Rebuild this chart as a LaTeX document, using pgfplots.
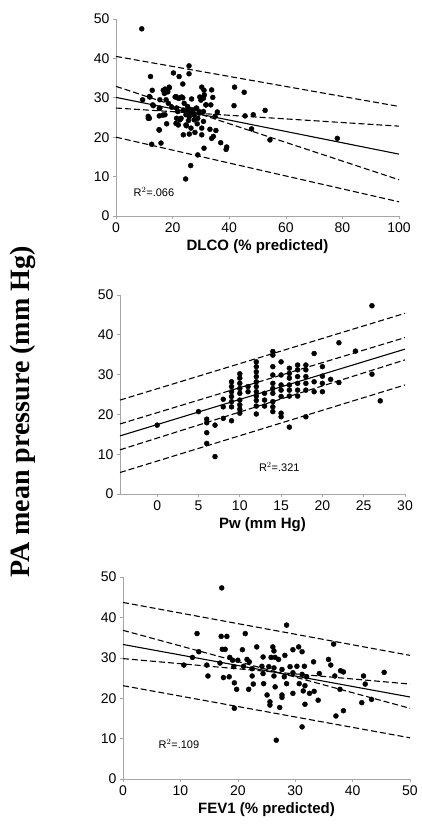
\documentclass[border=0pt]{standalone}
\usepackage{fontspec}
\setmainfont{Liberation Sans}
\newfontfamily\titleserif{Liberation Serif}
\usepackage{pgfplots}
\pgfplotsset{compat=1.18}

\pgfplotsset{
  panel/.style={
    scale only axis,
    anchor=south west,
    ymin=0, ymax=50,
    ytick={0,10,...,50},
    axis x line=bottom, axis y line=left,
    axis line style={-, gray!70, line width=0.6pt},
    tick style={gray!70, line width=0.6pt},
    tick align=outside,
    major tick length=3pt,
    /pgf/number format/assume math mode=true,
    tick label style={font=\fontsize{14}{14}\selectfont},
    label style={font=\fontsize{15}{15}\selectfont\bfseries},
    clip=false,
  },
  pts/.style={only marks, mark=*, mark size=2.5pt, black},
  fit/.style={black, line width=1.1pt},
  band/.style={black, line width=1.1pt, dash pattern=on 6pt off 3pt},
}
\tikzset{rsq/.style={font=\fontsize{11}{11}\selectfont, anchor=west}}

\begin{document}
\begin{tikzpicture}
\path[use as bounding box] (0,0) rectangle (422pt,832pt);

% DLCO
\begin{axis}[panel, at={(116pt,616pt)}, width=283pt, height=197pt,
  xmin=0, xmax=100, xtick={0,20,...,100},
  xlabel={DLCO (\% predicted)}]
\addplot[pts] coordinates {
(9.1,47.5) (25.8,38.1) (25.8,36.1) (20.3,36.3) (22.3,35.4) (12.2,35.4)
(23.6,33.5) (18.8,32.7) (16.7,31.9) (17.3,32.2) (12.8,31.9) (30.3,32.7)
(31.1,31.9) (33.8,32.0) (41.9,32.7) (45.3,31.4) (12.0,30.2) (9.4,29.5)
(20.9,30.2) (22.0,29.9) (23.2,30.2) (26.7,29.7) (29.6,30.2) (30.9,29.9)
(34.2,30.1) (17.7,29.5) (18.5,28.6) (13.2,28.0) (15.5,29.5) (31.8,28.2)
(33.5,28.2) (41.7,28.0) (19.7,27.6) (21.4,27.4) (23.8,26.9) (25.2,26.9)
(27.3,26.9) (28.5,27.4) (15.5,27.4) (11.4,25.3) (11.4,24.8) (15.3,25.4)
(17.3,25.7) (24.7,25.7) (26.4,26.1) (29.4,26.1) (35.8,26.4) (35.0,25.3)
(45.6,25.4) (48.5,25.7) (52.7,26.8) (21.4,24.8) (22.6,24.4) (25.6,24.2)
(27.6,24.4) (30.9,24.0) (17.9,23.4) (22.0,23.1) (24.9,22.9) (28.7,23.4)
(30.3,22.3) (33.2,22.0) (35.3,21.7) (15.2,21.9) (47.9,22.1) (23.8,20.6)
(25.9,20.8) (27.9,21.2) (30.3,20.6) (34.4,20.2) (33.8,19.7) (37.0,18.6)
(39.1,17.5) (38.9,16.9) (12.6,18.2) (15.9,18.5) (54.4,19.3) (78.2,19.7)
(31.1,17.2) (28.9,15.5) (26.4,12.8) (24.6,9.4)
(21.2,30.3) (22.4,29.9) (23.6,30.0) (18.3,31.5) (18.8,32.5) (17.1,31.1)
(24.1,28.6) (25.3,27.8) (26.5,27.0) (28.3,27.3) (29.4,26.5) (27.7,25.6)
(28.9,24.8) (25.9,25.2) (23.0,24.8) (21.8,26.5) (21.2,23.5) (24.7,23.1)
(26.5,22.3) (30.9,26.5) (31.8,28.2) (30.0,29.4) (31.2,30.7) (11.8,30.3)
(13.0,28.2) (15.3,27.3) (16.5,25.6) (15.3,21.8) (11.8,24.8)
};
\addplot[band] coordinates {(0,40.5) (100,27.8)};
\addplot[band] coordinates {(0,32.9) (100,9.2)};
\addplot[fit]  coordinates {(0,30.1) (100,15.7)};
\addplot[band] coordinates {(0,27.4) (100,22.8)};
\addplot[band] coordinates {(0,20.0) (100,3.6)};
\node[rsq] at (axis cs:5,6) {R$^2$=.066};
\end{axis}

% Pw
\begin{axis}[panel, at={(120pt,338pt)}, width=285pt, height=199pt,
  xmin=-4.5, xmax=30, xtick={0,5,...,30},
  xlabel={Pw (mm Hg)}]
\addplot[pts] coordinates {
(0,17.3) (5,20.7) (6,18.8) (6,17.9) (6,15.4) (6,12.7) (7,17.3) (7,9.4)
(8,23.8) (8,21.9) (8,19.0)
(9,28.2) (9,27.0) (9,25.7) (9,24.5) (9,23.2) (9,21.9) (9,18.4)
(10,30.2) (10,29.1) (10,27.8) (10,26.5) (10,25.3) (10,23.6) (10,22.4) (10,21.3) (10,20.3)
(11,27.0) (11,25.7)
(12,33.2) (12,32.0) (12,30.7) (12,29.5) (12,28.2) (12,27.0) (12,25.7) (12,24.6) (12,23.5) (12,22.1) (12,20.1)
(13,25.3) (13,23.6) (13,22.1)
(14,35.8) (14,34.9) (14,32.0) (14,29.9) (14,27.8) (14,26.5) (14,25.3) (14,23.2) (14,21.9) (14,20.7)
(15,33.2) (15,29.9) (15,27.4) (15,26.1) (15,24.5) (15,20.3) (15,19.4)
(16,31.6) (16,30.3) (16,29.1) (16,27.4) (16,26.1) (16,24.6) (16,16.8)
(17,32.4) (17,31.2) (17,29.5) (17,27.8) (17,26.1) (17,24.6)
(18,32.4) (18,31.2) (18,29.5) (18,27.8) (18,26.1) (18,19.4)
(19,35.3) (19,28.2) (19,25.7)
(20,32.0) (20,29.6) (20,27.8) (20,25.7)
(21,28.8) (22,38.0) (22,28.0) (24,35.9) (26,47.3) (26,30.1) (27,23.4)
};
\addplot[band] coordinates {(-4.5,23.6) (30,45.4)};
\addplot[band] coordinates {(-4.5,17.6) (30,39.3)};
\addplot[fit]  coordinates {(-4.5,14.6) (30,36.4)};
\addplot[band] coordinates {(-4.5,11.1) (30,33.7)};
\addplot[band] coordinates {(-4.5,5.4) (30,27.4)};
\node[rsq] at (axis cs:11.9,6.8) {R$^2$=.321};
\end{axis}

% FEV1
\begin{axis}[panel, at={(123pt,53pt)}, width=287pt, height=202pt,
  xmin=0, xmax=50, xtick={0,10,...,50},
  xlabel={FEV1 (\% predicted)}]
\addplot[pts] coordinates {
(17.2,47.3) (28.5,38.1) (12.9,36.0) (17.1,35.3) (18.1,35.3) (21.3,36.0)
(13.2,31.5) (23.3,32.7) (26.3,31.7) (26.1,32.7) (29.6,32.0) (30.6,32.7)
(31.2,31.5) (36.7,33.4) (17.3,32.1) (17.8,32.1) (20.8,32.0) (12.1,30.1)
(18.6,30.1) (19.1,29.4) (20.0,29.4) (21.6,29.6) (22.0,29.0) (24.4,30.2)
(25.8,30.1) (26.5,30.1) (27.1,29.6) (28.2,30.6) (10.6,28.2) (14.6,28.2)
(16.9,28.7) (19.3,27.8) (21.0,27.9) (22.5,27.3) (24.2,27.9) (25.4,27.8)
(26.3,27.5) (27.7,27.1) (29.1,27.8) (30.3,27.9) (31.6,27.9) (33.2,29.0)
(35.8,29.6) (36.2,28.2) (14.8,25.5) (17.5,25.1) (18.5,25.3) (22.5,25.5)
(24.4,26.1) (26.3,25.5) (28.1,25.3) (29.6,26.3) (31.2,25.9) (32.0,25.3)
(34.2,26.1) (36.9,25.5) (37.9,26.8) (38.4,26.5) (41.9,25.5) (45.5,26.4)
(19.4,23.8) (22.7,23.5) (24.5,23.6) (26.5,22.8) (28.5,23.6) (30.7,23.6)
(31.7,23.1) (42.2,23.5) (19.8,22.2) (21.9,22.2) (25.1,20.8) (27.7,20.8)
(29.6,21.2) (31.4,21.8) (32.5,21.2) (33.3,21.7) (37.8,22.2) (25.6,19.1)
(25.6,18.3) (27.7,20.2) (31.7,18.5) (34.0,19.5) (43.3,19.7) (41.6,18.9)
(19.4,17.5) (27.3,17.7) (38.4,16.9) (37.1,15.6) (31.2,12.9) (26.7,9.6)
};
\addplot[band] coordinates {(0,43.7) (50,30.6)};
\addplot[band] coordinates {(0,36.8) (50,17.5)};
\addplot[fit]  coordinates {(0,33.3) (50,20.3)};
\addplot[band] coordinates {(0,29.8) (50,23.5)};
\addplot[band] coordinates {(0,23.1) (50,10.2)};
\node[rsq] at (axis cs:5.6,8.7) {R$^2$=.109};
\end{axis}

\node[rotate=90, font=\fontsize{28}{28}\selectfont\titleserif\bfseries]
  at (23pt,420pt) {PA mean pressure (mm Hg)};
\end{tikzpicture}
\end{document}
